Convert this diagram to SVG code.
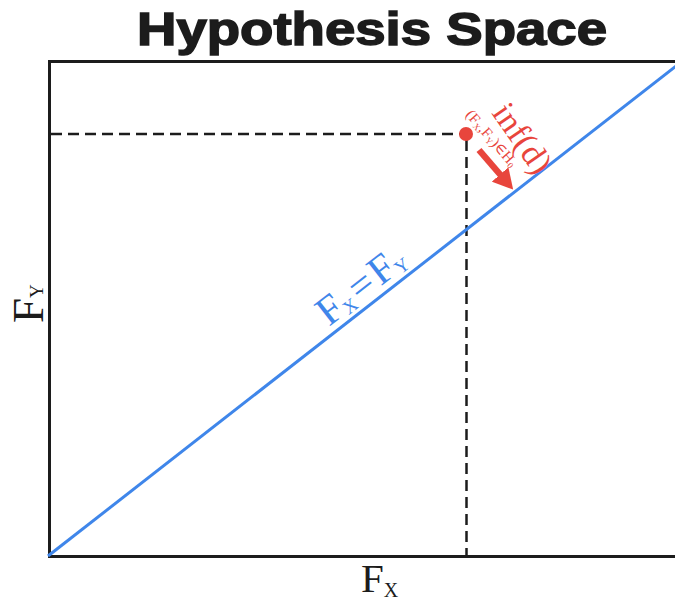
<svg xmlns="http://www.w3.org/2000/svg" width="675" height="604" viewBox="0 0 675 604">
<style>
.ax{stroke:#1c1c1c;stroke-width:3;fill:none}
.dash{stroke:#1c1c1c;stroke-width:2.5;stroke-dasharray:11 6;fill:none}
.serif{font-family:"Liberation Serif","DejaVu Serif",serif}
.red{fill:#e8453c}
.blue{fill:#3f86ea}
</style>
<defs>
<marker id="ah" viewBox="0 0 20 22" refX="6" refY="11" markerWidth="20" markerHeight="22" orient="auto" markerUnits="userSpaceOnUse">
<path d="M0,0 L20,11 L0,22 z" fill="#e8453c"/>
</marker>
</defs>
<rect width="675" height="604" fill="#fff"/>
<g id="title">
<text x="372" y="45" text-anchor="middle" font-family="Liberation Sans, Arial, sans-serif" font-weight="900" font-size="46" fill="#1c1c1c" textLength="470" lengthAdjust="spacingAndGlyphs" stroke="#1c1c1c" stroke-width="1.5">Hypothesis Space</text>
</g>
<g id="axes">
<path class="ax" d="M676,61.5 H49.5 V556.5 H676"/>
</g>
<g id="connectors">
<line class="dash" x1="51" y1="134" x2="462" y2="134"/>
<line class="dash" x1="466.5" y1="140" x2="466.5" y2="555"/>
<line x1="48" y1="556" x2="676" y2="66" stroke="#3f86ea" stroke-width="3"/>
<line x1="479" y1="150" x2="504" y2="179" stroke="#e8453c" stroke-width="6.5" marker-end="url(#ah)"/>
</g>
<g id="point">
<circle cx="466" cy="134" r="7" fill="#e8453c"/>
</g>
<g id="inf-label" class="serif red">
<text transform="translate(491,113) rotate(55)" font-size="34">inf(d)</text>
<text transform="translate(465,115) rotate(49)" font-size="15">(F<tspan font-size="9" dy="2">X</tspan><tspan dy="-2">,F</tspan><tspan font-size="9" dy="2">Y</tspan><tspan dy="-2">)∈H</tspan><tspan font-size="9" dy="2">0</tspan></text>
</g>
<g id="eq-label" class="serif blue">
<text transform="translate(329,327) rotate(-38)" font-size="41">F<tspan font-size="19" dy="3">X</tspan><tspan dy="-3" dx="3">=</tspan><tspan dx="3">F</tspan><tspan font-size="19" dy="3">Y</tspan></text>
</g>
<g id="ylabel" class="serif" fill="#1c1c1c">
<text transform="translate(43,323) rotate(-90)" font-size="45">F<tspan font-size="19">Y</tspan></text>
</g>
<g id="xlabel" class="serif" fill="#1c1c1c">
<text x="361" y="592" font-size="41">F<tspan font-size="20" dy="5">X</tspan></text>
</g>
</svg>
